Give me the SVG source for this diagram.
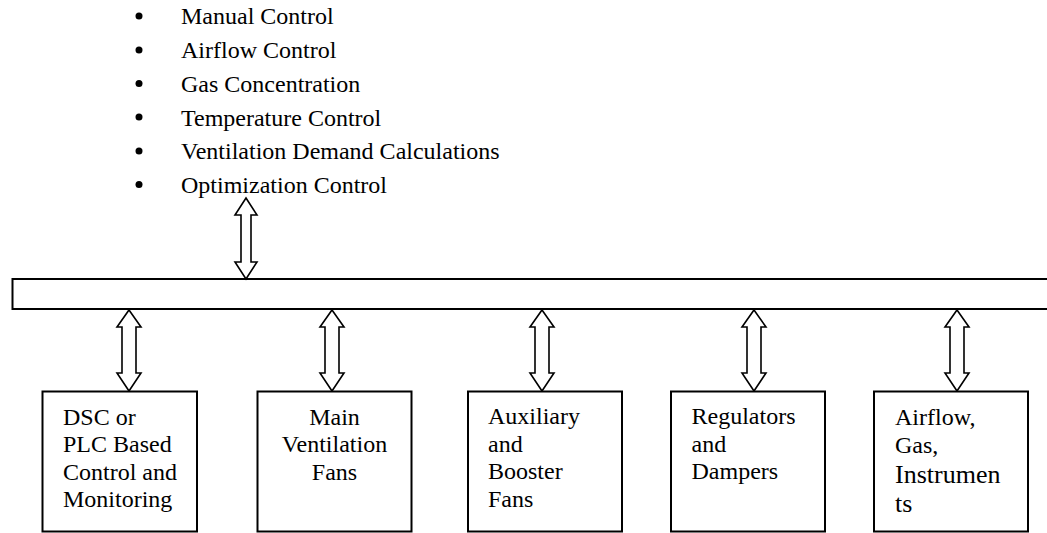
<svg xmlns="http://www.w3.org/2000/svg" width="1047" height="533" viewBox="0 0 1047 533">
<style>
.box{fill:#fff;stroke:#000;stroke-width:2}
.arr{fill:#fff;stroke:#000;stroke-width:1.6;stroke-linejoin:miter}
</style>
<rect width="1047" height="533" fill="#fff"/>
<g id="list" font-size="24" font-family="serif">
<circle cx="139" cy="16" r="3.5"/>
<circle cx="139" cy="50" r="3.5"/>
<circle cx="139" cy="83.5" r="3.5"/>
<circle cx="139" cy="117" r="3.5"/>
<circle cx="139" cy="151" r="3.5"/>
<circle cx="139" cy="184.5" r="3.5"/>
<text x="181" y="24" font-family="serif">Manual Control</text>
<text x="181" y="58" font-family="serif">Airflow Control</text>
<text x="181" y="91.5" font-family="serif">Gas Concentration</text>
<text x="181" y="125.5" font-family="serif">Temperature Control</text>
<text x="181" y="159" font-family="serif">Ventilation Demand Calculations</text>
<text x="181" y="192.5" font-family="serif">Optimization Control</text>
</g>
<g id="bus">
<rect class="box" x="12.5" y="279" width="1045" height="30"/>
</g>
<g id="connectors">
<path class="arr" d="M246,198 L257,215 L251,215 L251,262 L257,262 L246,279 L235,262 L241,262 L241,215 L235,215 Z"/>
<path class="arr" d="M129,310 L141,327 L136,327 L136,373 L141,373 L129,391 L117,373 L122,373 L122,327 L117,327 Z"/>
<path class="arr" d="M332,310 L344,327 L339,327 L339,373 L344,373 L332,391 L320,373 L325,373 L325,327 L320,327 Z"/>
<path class="arr" d="M542,310 L554,327 L549,327 L549,373 L554,373 L542,391 L530,373 L535,373 L535,327 L530,327 Z"/>
<path class="arr" d="M754,310 L766,327 L761,327 L761,373 L766,373 L754,391 L742,373 L747,373 L747,327 L742,327 Z"/>
<path class="arr" d="M957,310 L969,327 L964,327 L964,373 L969,373 L957,391 L945,373 L950,373 L950,327 L945,327 Z"/>
</g>
<g id="dsc" font-size="24" font-family="serif">
<rect class="box" x="42.5" y="391.5" width="154.5" height="140"/>
<text x="63" y="425" font-family="serif">DSC or</text>
<text x="63" y="452.3" font-family="serif">PLC Based</text>
<text x="63" y="479.7" font-family="serif">Control and</text>
<text x="63" y="507" font-family="serif">Monitoring</text>
</g>
<g id="main-fans" font-size="24" font-family="serif">
<rect class="box" x="257.5" y="391.5" width="154" height="140"/>
<text x="334.5" y="425" text-anchor="middle" font-family="serif">Main</text>
<text x="334.5" y="452.3" text-anchor="middle" font-family="serif">Ventilation</text>
<text x="334.5" y="479.7" text-anchor="middle" font-family="serif">Fans</text>
</g>
<g id="aux-fans" font-size="24" font-family="serif">
<rect class="box" x="468" y="391.5" width="154" height="140"/>
<text x="488" y="424" font-family="serif">Auxiliary</text>
<text x="488" y="451.5" font-family="serif">and</text>
<text x="488" y="479" font-family="serif">Booster</text>
<text x="488" y="506.5" font-family="serif">Fans</text>
</g>
<g id="regulators" font-size="24" font-family="serif">
<rect class="box" x="671" y="391.5" width="154" height="140"/>
<text x="691.5" y="424" font-family="serif">Regulators</text>
<text x="691.5" y="451.5" font-family="serif">and</text>
<text x="691.5" y="479" font-family="serif">Dampers</text>
</g>
<g id="instruments" font-size="24" font-family="serif">
<rect class="box" x="874" y="391.5" width="154" height="140"/>
<text x="895" y="425" font-family="serif">Airflow,</text>
<text x="895" y="453" font-family="serif">Gas,</text>
<text x="895" y="483.3" font-size="26" font-family="serif">Instrumen</text>
<text x="895" y="511.7" font-size="26" font-family="serif">ts</text>
</g>
</svg>
